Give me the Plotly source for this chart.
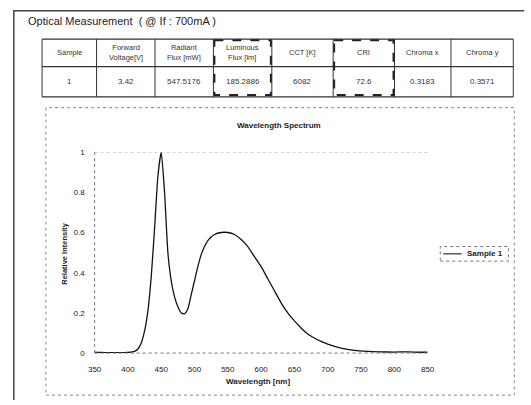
import plotly.graph_objects as go

W, H = 531, 405

# ---- data ----
table_headers = ["Sample", "Forward<br>Voltage[V]", "Radiant<br>Flux [mW]", "Luminous<br>Flux [lm]",
                 "CCT [K]", "CRI", "Chroma x", "Chroma y"]
table_values = ["1", "3.42", "547.5176", "185.2886", "6082", "72.6", "0.3183", "0.3571"]
highlight_cols = [3, 5]

wavelength = [350, 360, 370, 380, 390, 400, 410, 415, 420, 425, 430, 435, 440, 445, 450,
              455, 460, 465, 470, 475, 480, 485, 490, 495, 500, 505, 510, 515, 520, 530,
              540, 550, 560, 570, 580, 590, 600, 610, 620, 630, 640, 650, 660, 670, 680,
              690, 700, 720, 740, 760, 780, 800, 820, 840, 850]
intensity = [0.005, 0.003, 0.002, 0.002, 0.002, 0.003, 0.008, 0.02, 0.05, 0.11, 0.21, 0.38,
             0.62, 0.88, 1.0, 0.80, 0.50, 0.36, 0.28, 0.23, 0.20, 0.195, 0.22, 0.29, 0.36,
             0.43, 0.49, 0.53, 0.56, 0.59, 0.60, 0.60, 0.59, 0.565, 0.53, 0.48, 0.43, 0.37,
             0.31, 0.25, 0.20, 0.16, 0.125, 0.095, 0.075, 0.058, 0.045, 0.025, 0.013, 0.008,
             0.006, 0.005, 0.006, 0.004, 0.005]

x_ticks = [350, 400, 450, 500, 550, 600, 650, 700, 750, 800, 850]
y_ticks = [0, 0.2, 0.4, 0.6, 0.8, 1]
y_ticktext = ["0", "0.2", "0.4", "0.6", "0.8", "1"]

# ---- layout geometry (pixels) ----
def px(x):
    return x / W

def py(y):
    return 1 - y / H

col_edges = [36, 92, 152, 212, 272, 335, 398, 456, 520]
row_edges = [36, 64, 95]
plot_l, plot_r, plot_t, plot_b = 90, 432, 151.5, 357

FONT = "Liberation Sans, Arial, sans-serif"
fig = go.Figure()
fig.add_trace(go.Scatter(x=wavelength, y=intensity, mode="lines", name="Sample 1",
                         line=dict(color="#111111", width=1.3, shape="spline", smoothing=0.5),
                         showlegend=False))

shapes = []
annotations = []


def text(x, y, s, size, xanchor="center", angle=0, color="#222222"):
    annotations.append(dict(x=px(x), y=py(y), xref="paper", yref="paper", showarrow=False,
                            xanchor=xanchor, yanchor="middle", text=s, textangle=angle,
                            font=dict(family=FONT, size=size, color=color)))


# outer frame
shapes.append(dict(type="path", xref="paper", yref="paper",
                   path=f"M {px(7)},{py(405)} L {px(7)},{py(7)} L {px(531)},{py(7)}",
                   line=dict(color="#444444", width=1.5)))

# title
text(20, 17, "Optical Measurement  ( @ If : 700mA )", 11, xanchor="left")

# table grid
for xe in col_edges:
    shapes.append(dict(type="line", xref="paper", yref="paper", x0=px(xe), x1=px(xe),
                       y0=py(row_edges[0]), y1=py(row_edges[-1]),
                       line=dict(color="#333333", width=1)))
for ye in row_edges:
    shapes.append(dict(type="line", xref="paper", yref="paper", x0=px(col_edges[0]),
                       x1=px(col_edges[-1]), y0=py(ye), y1=py(ye),
                       line=dict(color="#333333", width=1.2)))
for ci in highlight_cols:
    shapes.append(dict(type="rect", xref="paper", yref="paper",
                       x0=px(col_edges[ci] + 1), x1=px(col_edges[ci + 1] - 1),
                       y0=py(row_edges[0] + 1), y1=py(row_edges[-1] - 2),
                       line=dict(color="#222222", width=2, dash="dash")))
for i, (hdr, val) in enumerate(zip(table_headers, table_values)):
    cx = (col_edges[i] + col_edges[i + 1]) / 2
    text(cx, (row_edges[0] + row_edges[1]) / 2, hdr, 7.5, color="#333333")
    text(cx, (row_edges[1] + row_edges[2]) / 2, val, 8, color="#333333")

# chart box
shapes.append(dict(type="rect", xref="paper", yref="paper", x0=px(40), x1=px(521),
                   y0=py(400), y1=py(106), line=dict(color="#888888", width=1, dash="dot")))

# chart title
text(279, 124, "<b>Wavelength Spectrum</b>", 8)

# axis lines (dotted)
shapes.append(dict(type="line", xref="x domain", yref="y domain", x0=0, x1=0, y0=0, y1=1,
                   line=dict(color="#777777", width=1, dash="dot")))
shapes.append(dict(type="line", xref="x domain", yref="y domain", x0=0, x1=1, y0=0, y1=0,
                   line=dict(color="#777777", width=1, dash="dot")))
shapes.append(dict(type="line", xref="x domain", yref="y", x0=0, x1=1, y0=1, y1=1,
                   line=dict(color="#999999", width=1, dash="dot")))

# axis titles
text(258, 386, "<b>Wavelength [nm]</b>", 8)
text(59, 255, "<b>Relative Intensity</b>", 7.5, angle=-90)

# legend
shapes.append(dict(type="rect", xref="paper", yref="paper", x0=px(445), x1=px(515),
                   y0=py(263), y1=py(248), line=dict(color="#777777", width=1, dash="dot")))
shapes.append(dict(type="line", xref="paper", yref="paper", x0=px(448), x1=px(467),
                   y0=py(255.5), y1=py(255.5), line=dict(color="#333333", width=1.2)))
text(470, 255.5, "<b>Sample 1</b>", 8, xanchor="left")

tickfont = dict(family=FONT, size=8, color="#222222")
fig.update_layout(
    width=W, height=H, margin=dict(l=0, r=0, t=0, b=0),
    paper_bgcolor="white", plot_bgcolor="white",
    shapes=shapes, annotations=annotations, showlegend=False,
    xaxis=dict(domain=[px(plot_l), px(plot_r)], range=[350, 850], tickvals=x_ticks,
               showgrid=False, zeroline=False, showline=False, ticks="", tickfont=tickfont,
               ticklabelstandoff=10),
    yaxis=dict(domain=[py(plot_b), py(plot_t)], range=[0, 1.0], tickvals=y_ticks,
               ticktext=y_ticktext, showgrid=False, zeroline=False, showline=False, ticks="",
               tickfont=tickfont, ticklabelstandoff=9),
)

fig.write_html("out.html", post_script="document.body.style.margin='0';")
